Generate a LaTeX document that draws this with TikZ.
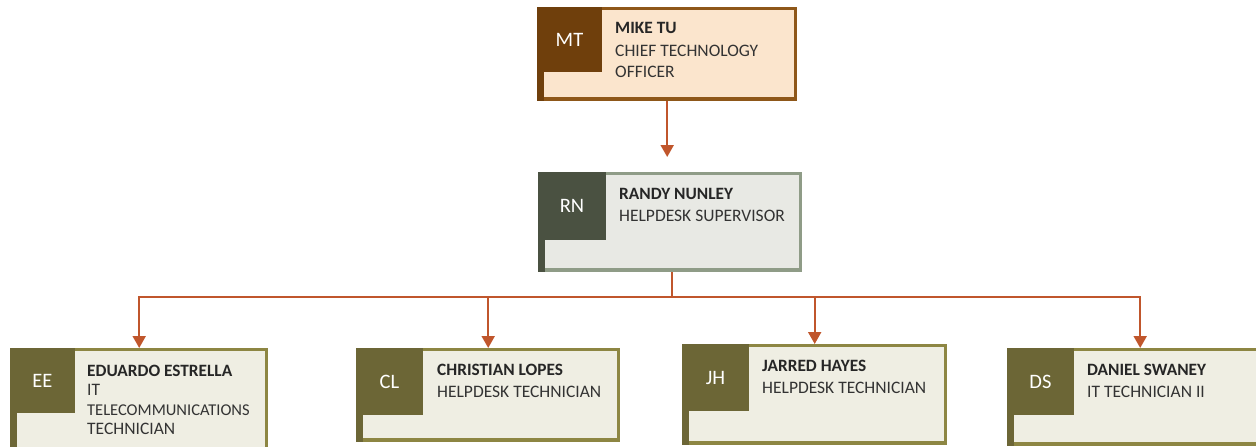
\documentclass[tikz,border=0pt]{standalone}
\usepackage{fontspec}
\setmainfont{Carlito}
\usetikzlibrary{arrows.meta,calc}
\definecolor{mtborder}{HTML}{8E5719}
\definecolor{mtsq}{HTML}{6F3F0C}
\definecolor{mtfill}{HTML}{FBE5CD}
\definecolor{rnborder}{HTML}{8F9C87}
\definecolor{rnsq}{HTML}{4A5141}
\definecolor{rnfill}{HTML}{E8E9E4}
\definecolor{chborder}{HTML}{8D8643}
\definecolor{chsq}{HTML}{6C6636}
\definecolor{chfill}{HTML}{EFEEE3}
\definecolor{link}{HTML}{C0562C}
\definecolor{txt}{HTML}{333333}
\definecolor{txtdark}{HTML}{262626}
\tikzset{
  boxarea/.style={rectangle, inner sep=0pt, anchor=north west, draw=none},
  initials/.style={font=\fontsize{20.5}{24}\selectfont, text=white, inner sep=0pt, anchor=center},
  nameline/.style={font=\fontsize{17.3}{20}\selectfont\bfseries, text=txtdark, inner sep=0pt, anchor=base west},
  titleline/.style={font=\fontsize{17.5}{20}\selectfont, text=txt, inner sep=0pt, anchor=base west},
  conn/.style={draw=link, line width=2pt},
  connarrow/.style={conn, -{Triangle[width=13pt,length=12pt]}},
}
% #1 name, #2 x0, #3 y0, #4 x1, #5 y1, #6 square size, #7 colour prefix, #8 initials
\newcommand{\orgbox}[8]{%
  \fill[#7border] (#2,#3) rectangle (#4,#5);
  \fill[#7sq] (#2,#3) rectangle ({#2+7},#5);
  \fill[#7fill] ({#2+7},{#3+3}) rectangle ({#4-3},{#5-4});
  \fill[#7sq] (#2,#3) rectangle ({#2+#6},{#3+#6});
  \node[boxarea, minimum width={(#4-#2)*1pt}, minimum height={(#5-#3)*1pt}] (#1) at (#2,#3) {};
  \node[initials] (#1-ini) at ({#2+#6/2},{#3+#6/2}) {#8};
}
\begin{document}
\begin{tikzpicture}[x=1pt,y=-1pt]
\useasboundingbox (0,0) rectangle (1256,447);
\clip (0,0) rectangle (1256,447);
% boxes
\orgbox{MT}{537}{7}{797}{101}{65}{mt}{MT}
\node[nameline] (MT-n) at (615,34) {MIKE TU};
\node[titleline] (MT-t1) at (615,56) {CHIEF TECHNOLOGY};
\node[titleline] (MT-t2) at (615,77) {OFFICER};

\orgbox{RN}{538}{172}{802}{272}{68}{rn}{RN}
\node[nameline] (RN-n) at (619,199) {RANDY NUNLEY};
\node[titleline] (RN-t1) at (619,221) {HELPDESK SUPERVISOR};

\orgbox{EE}{10}{348}{268}{452}{65}{ch}{EE}
\node[nameline] (EE-n) at (87,376) {EDUARDO ESTRELLA};
\node[titleline] (EE-t1) at (87,395.5) {IT};
\node[titleline, font=\fontsize{16.5}{20}\selectfont] (EE-t2) at (87,415) {TELECOMMUNICATIONS};
\node[titleline] (EE-t3) at (87,434.5) {TECHNICIAN};

\orgbox{CL}{356}{348}{620}{442}{67}{ch}{CL}
\node[nameline] (CL-n) at (437,375) {CHRISTIAN LOPES};
\node[titleline] (CL-t1) at (437,397) {HELPDESK TECHNICIAN};

\orgbox{JH}{682}{344}{947}{445}{67}{ch}{JH}
\node[nameline] (JH-n) at (762,371) {JARRED HAYES};
\node[titleline] (JH-t1) at (762,393) {HELPDESK TECHNICIAN};

\orgbox{DS}{1007}{348}{1273}{446}{67}{ch}{DS}
\node[nameline] (DS-n) at (1087,375) {DANIEL SWANEY};
\node[titleline] (DS-t1) at (1087,397) {IT TECHNICIAN II};

% connectors
\draw[connarrow, shorten >=15pt] (MT.south) -- (MT.south |- RN.north);
\coordinate (bus) at (672,297);
\draw[conn] (RN.south -| bus) -- (bus);
\draw[connarrow] (bus) -| (EE.north);
\draw[connarrow] (bus) -| (CL.north);
\draw[connarrow] (bus) -| (JH.north);
\draw[connarrow] (bus) -| (DS.north);
\end{tikzpicture}
\end{document}
